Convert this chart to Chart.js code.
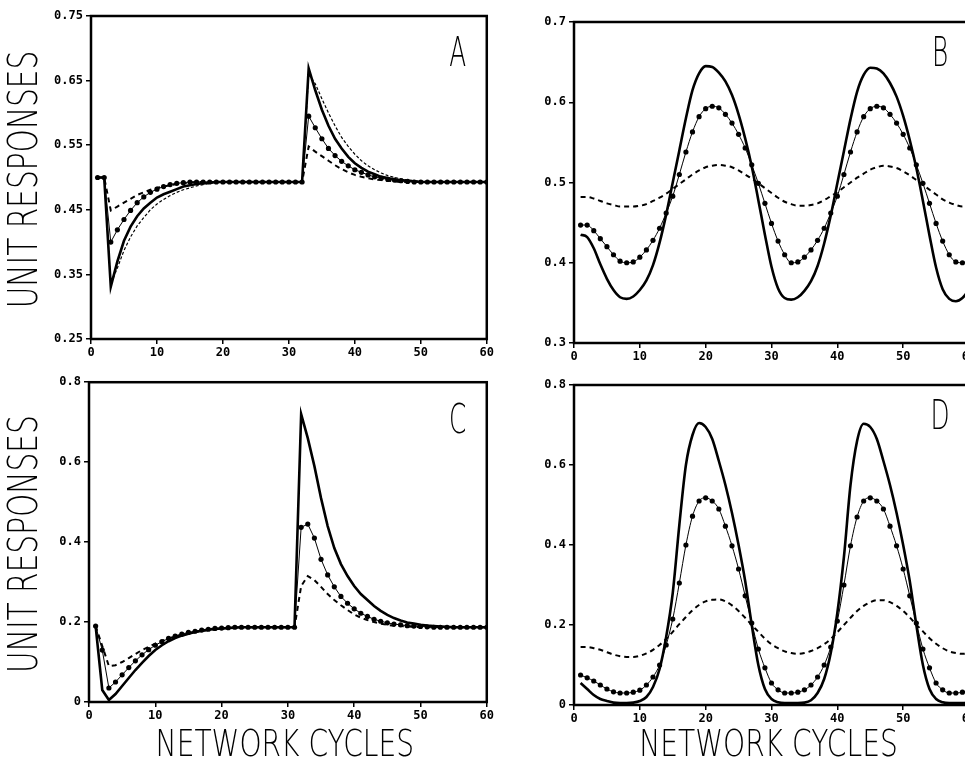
<!DOCTYPE html>
<html>
<head>
<meta charset="utf-8">
<script src="https://cdn.jsdelivr.net/npm/chart.js@4.4.1/dist/chart.umd.min.js"></script>
<style>
  html, body { margin: 0; padding: 0; background: #fff; overflow: hidden; width: 965px; height: 762px; }
  canvas { position: absolute; }
</style>
</head>
<body>
<canvas id="chartA" width="496" height="372" style="left:0;top:0"></canvas>
<canvas id="chartB" width="500" height="372" style="left:480px;top:0"></canvas>
<canvas id="chartC" width="496" height="390" style="left:0;top:372px"></canvas>
<canvas id="chartD" width="500" height="390" style="left:480px;top:372px"></canvas>
<script>
// network cycles (x)
const cycles = [1,2,3,4,5,6,7,8,9,10,11,12,13,14,15,16,17,18,19,20,
  21,22,23,24,25,26,27,28,29,30,31,32,33,34,35,36,37,38,39,40,
  41,42,43,44,45,46,47,48,49,50,51,52,53,54,55,56,57,58,59,60];

// tick labels
const xTicks = [0,10,20,30,40,50,60];
const yTicksA = [0.25,0.35,0.45,0.55,0.65,0.75];
const yTicksB = [0.3,0.4,0.5,0.6,0.7];
const yTicksCD = [0,0.2,0.4,0.6,0.8];

// Panel A
const aSolid = [0.5,0.5,0.331,0.37,0.402,0.424,0.44,0.452,0.461,0.469,0.474,0.478,0.482,0.486,0.488,0.49,0.491,0.492,0.493,0.493,
  0.493,0.493,0.493,0.493,0.493,0.493,0.493,0.493,0.493,0.493,0.493,0.493,0.669,0.635,0.605,0.58,0.56,0.545,0.532,0.522,
  0.515,0.509,0.505,0.501,0.499,0.497,0.496,0.495,0.494,0.493,0.493,0.493,0.493,0.493,0.493,0.493,0.493,0.493,0.493,0.493];
const aSlow = [0.5,0.5,0.335,0.36,0.387,0.408,0.425,0.438,0.45,0.459,0.466,0.472,0.477,0.481,0.484,0.487,0.489,0.491,0.492,0.493,
  0.493,0.493,0.493,0.493,0.493,0.493,0.493,0.493,0.493,0.493,0.493,0.493,0.66,0.645,0.622,0.6,0.58,0.562,0.548,0.536,
  0.526,0.518,0.512,0.507,0.503,0.5,0.498,0.496,0.495,0.494,0.493,0.493,0.493,0.493,0.493,0.493,0.493,0.493,0.493,0.493];
const aDots = [0.5,0.5,0.4,0.419,0.435,0.449,0.461,0.47,0.477,0.482,0.486,0.489,0.491,0.492,0.493,0.493,0.493,0.493,0.493,0.493,
  0.493,0.493,0.493,0.493,0.493,0.493,0.493,0.493,0.493,0.493,0.493,0.493,0.595,0.577,0.56,0.545,0.534,0.525,0.518,0.512,
  0.508,0.504,0.501,0.499,0.497,0.496,0.495,0.494,0.493,0.493,0.493,0.493,0.493,0.493,0.493,0.493,0.493,0.493,0.493,0.493];
const aDash = [0.5,0.5,0.449,0.455,0.461,0.467,0.473,0.477,0.481,0.484,0.486,0.488,0.49,0.491,0.492,0.493,0.493,0.493,0.493,0.493,
  0.493,0.493,0.493,0.493,0.493,0.493,0.493,0.493,0.493,0.493,0.493,0.493,0.548,0.54,0.533,0.526,0.519,0.513,0.508,0.504,
  0.501,0.499,0.497,0.496,0.495,0.494,0.493,0.493,0.493,0.493,0.493,0.493,0.493,0.493,0.493,0.493,0.493,0.493,0.493,0.493];

// Panel B
const bSolid = [0.435,0.432,0.418,0.398,0.38,0.366,0.357,0.355,0.358,0.366,0.378,0.397,0.425,0.46,0.5,0.54,0.58,0.615,0.636,0.645,
  0.644,0.637,0.626,0.609,0.585,0.555,0.52,0.478,0.435,0.395,0.368,0.356,0.354,0.357,0.365,0.377,0.396,0.424,0.459,0.499,
  0.539,0.579,0.613,0.634,0.643,0.642,0.636,0.624,0.607,0.583,0.553,0.518,0.477,0.434,0.394,0.367,0.355,0.352,0.356,0.366];
const bDots = [0.447,0.447,0.44,0.43,0.42,0.41,0.402,0.4,0.401,0.407,0.416,0.428,0.443,0.462,0.483,0.51,0.538,0.563,0.582,0.592,
  0.595,0.593,0.585,0.574,0.56,0.543,0.522,0.499,0.474,0.449,0.427,0.41,0.4,0.401,0.407,0.416,0.428,0.443,0.462,0.483,
  0.51,0.538,0.563,0.582,0.592,0.595,0.593,0.585,0.574,0.56,0.543,0.522,0.499,0.474,0.449,0.427,0.41,0.401,0.4,0.403];
const bDash = [0.482,0.482,0.48,0.477,0.474,0.472,0.47,0.47,0.47,0.471,0.473,0.477,0.481,0.486,0.492,0.498,0.504,0.51,0.515,0.519,
  0.521,0.522,0.521,0.519,0.515,0.51,0.505,0.499,0.493,0.487,0.481,0.476,0.473,0.471,0.471,0.472,0.474,0.478,0.483,0.488,
  0.494,0.5,0.506,0.511,0.516,0.519,0.521,0.52,0.518,0.514,0.509,0.503,0.497,0.491,0.485,0.479,0.475,0.472,0.47,0.47];

// Panel C
const cSolid = [0.19,0.03,0.005,0.02,0.04,0.06,0.08,0.098,0.115,0.13,0.142,0.152,0.16,0.166,0.171,0.175,0.178,0.181,0.183,0.184,
  0.185,0.186,0.187,0.187,0.187,0.187,0.187,0.187,0.187,0.187,0.187,0.72,0.66,0.59,0.51,0.44,0.385,0.345,0.315,0.29,
  0.27,0.255,0.24,0.228,0.218,0.21,0.204,0.199,0.196,0.193,0.191,0.19,0.189,0.188,0.187,0.187,0.187,0.187,0.187,0.187];
const cDots = [0.19,0.13,0.035,0.05,0.068,0.086,0.103,0.118,0.131,0.142,0.151,0.159,0.165,0.17,0.174,0.177,0.18,0.182,0.184,0.185,
  0.186,0.187,0.187,0.187,0.187,0.187,0.187,0.187,0.187,0.187,0.187,0.437,0.445,0.41,0.357,0.318,0.288,0.264,0.247,0.233,
  0.222,0.214,0.207,0.202,0.198,0.195,0.193,0.191,0.19,0.189,0.188,0.187,0.187,0.187,0.187,0.187,0.187,0.187,0.187,0.187];
const cDash = [0.19,0.14,0.09,0.092,0.1,0.11,0.12,0.13,0.138,0.146,0.153,0.159,0.164,0.168,0.172,0.175,0.178,0.18,0.182,0.184,
  0.185,0.186,0.187,0.187,0.187,0.187,0.187,0.187,0.187,0.187,0.187,0.29,0.315,0.305,0.288,0.27,0.255,0.242,0.23,0.219,
  0.211,0.205,0.2,0.196,0.193,0.191,0.19,0.189,0.188,0.187,0.187,0.187,0.187,0.187,0.187,0.187,0.187,0.187,0.187,0.187];

// Panel D
const dSolid = [0.055,0.04,0.025,0.015,0.01,0.006,0.005,0.005,0.006,0.01,0.02,0.045,0.09,0.17,0.28,0.45,0.6,0.675,0.705,0.695,
  0.665,0.61,0.55,0.48,0.4,0.31,0.2,0.1,0.04,0.015,0.007,0.005,0.005,0.005,0.006,0.012,0.03,0.065,0.13,0.23,
  0.37,0.55,0.66,0.703,0.695,0.665,0.61,0.55,0.48,0.4,0.31,0.2,0.1,0.04,0.015,0.007,0.005,0.005,0.005,0.006];
const dDots = [0.075,0.068,0.06,0.05,0.04,0.033,0.03,0.03,0.032,0.037,0.05,0.07,0.1,0.15,0.215,0.305,0.4,0.472,0.51,0.518,
  0.51,0.49,0.447,0.398,0.34,0.273,0.205,0.14,0.093,0.055,0.038,0.03,0.03,0.032,0.038,0.05,0.07,0.1,0.145,0.21,
  0.3,0.398,0.47,0.51,0.518,0.51,0.49,0.447,0.398,0.34,0.273,0.205,0.14,0.093,0.055,0.038,0.03,0.03,0.032,0.038];
const dDash = [0.145,0.145,0.142,0.138,0.132,0.126,0.122,0.12,0.12,0.123,0.129,0.138,0.15,0.165,0.183,0.202,0.22,0.237,0.25,0.259,
  0.263,0.264,0.259,0.249,0.235,0.218,0.2,0.183,0.166,0.152,0.142,0.134,0.13,0.128,0.13,0.135,0.142,0.152,0.165,0.182,
  0.2,0.218,0.235,0.248,0.257,0.262,0.262,0.257,0.248,0.235,0.219,0.201,0.184,0.167,0.153,0.142,0.134,0.13,0.128,0.13];

const tickFont = { family: '"DejaVu Sans Mono", monospace', size: 12, weight: 'bold' };
const thinFont = '"DejaVu Sans", sans-serif';

// narrow, thin text like the plotter lettering
function plotterText(ctx, text, x, y, size, sx, rotate) {
  ctx.save();
  ctx.translate(x, y);
  if (rotate) ctx.rotate(-Math.PI / 2);
  ctx.scale(sx, 1);
  ctx.font = '200 ' + size + 'px ' + thinFont;
  ctx.fillStyle = '#000';
  ctx.textAlign = 'center';
  ctx.textBaseline = 'middle';
  ctx.fillText(text, 0, 0);
  ctx.restore();
}

// frame around the plot area, panel letter and axis titles
const panelFrame = {
  id: 'panelFrame',
  afterDraw(chart, args, opts) {
    const { ctx, chartArea: a } = chart;
    ctx.save();
    ctx.strokeStyle = '#000';
    ctx.lineWidth = 2.5;
    ctx.strokeRect(a.left, a.top, a.right - a.left, a.bottom - a.top);
    ctx.restore();
    plotterText(ctx, opts.text, a.right - 29, a.top + opts.dy, 40, 0.62, false);
    if (opts.yTitle) plotterText(ctx, 'UNIT RESPONSES', 27, (a.top + a.bottom) / 2 + 2, 40, 0.74, true);
    if (opts.xTitle) plotterText(ctx, 'NETWORK CYCLES', (a.left + a.right) / 2 - 3, a.bottom + opts.xTitle, 38, 0.74, false);
  }
};

function pts(values) {
  return cycles.map((c, i) => ({ x: c, y: values[i] }));
}

function lineSet(values, kind, smooth) {
  const base = {
    data: pts(values),
    borderColor: '#000',
    backgroundColor: '#000',
    pointRadius: 0,
    tension: 0,
    cubicInterpolationMode: smooth ? 'monotone' : 'default'
  };
  if (kind === 'solid') return { ...base, borderWidth: 2.6 };
  if (kind === 'slow') return { ...base, borderWidth: 1.2, borderDash: [3, 2] };
  if (kind === 'dots') return { ...base, borderWidth: 1, pointRadius: 2.6, pointBorderWidth: 0 };
  return { ...base, borderWidth: 2, borderDash: [5, 4] };
}

function makeChart(id, o) {
  const ctx = document.getElementById(id).getContext('2d');
  return new Chart(ctx, {
    type: 'line',
    data: { datasets: o.sets },
    options: {
      responsive: false,
      animation: false,
      layout: { padding: o.padding },
      plugins: { legend: { display: false }, tooltip: { enabled: false }, panelFrame: o.label },
      scales: {
        x: {
          type: 'linear', min: 0, max: 60,
          afterBuildTicks: s => { s.ticks = xTicks.map(v => ({ value: v })); },
          afterFit: s => { s.height = o.xHeight; },
          ticks: { color: '#000', font: tickFont, padding: 2, maxRotation: 0 },
          grid: { drawOnChartArea: false, tickLength: 5, color: '#000', lineWidth: 1.5 },
          border: { display: false }
        },
        y: {
          type: 'linear', min: o.yTicks[0], max: o.yTicks[o.yTicks.length - 1],
          afterBuildTicks: s => { s.ticks = o.yTicks.map(v => ({ value: v })); },
          afterFit: s => { s.width = o.yWidth; },
          ticks: { color: '#000', font: tickFont, padding: 3, callback: o.fmt },
          grid: { drawOnChartArea: false, tickLength: 5, color: '#000', lineWidth: 1.5 },
          border: { display: false }
        }
      }
    },
    plugins: [panelFrame]
  });
}

const fmt2 = v => v.toFixed(2);
const fmt1 = v => v === 0 ? '0' : v.toFixed(1);

makeChart('chartA', {
  sets: [lineSet(aSolid, 'solid'), lineSet(aSlow, 'slow'), lineSet(aDots, 'dots'), lineSet(aDash, 'dash')],
  yTicks: yTicksA, fmt: fmt2, yWidth: 91, xHeight: 33,
  padding: { top: 16, right: 8, left: 0, bottom: 0 },
  label: { text: 'A', dy: 40, yTitle: true }
});
makeChart('chartB', {
  sets: [lineSet(bSolid, 'solid', true), lineSet(bDots, 'dots', true), lineSet(bDash, 'dash', true)],
  yTicks: yTicksB, fmt: fmt1, yWidth: 94, xHeight: 29,
  padding: { top: 22, right: 11, left: 0, bottom: 0 },
  label: { text: 'B', dy: 34 }
});
makeChart('chartC', {
  sets: [lineSet(cSolid, 'solid'), lineSet(cDots, 'dots'), lineSet(cDash, 'dash')],
  yTicks: yTicksCD, fmt: fmt1, yWidth: 89, xHeight: 60,
  padding: { top: 10, right: 9, left: 0, bottom: 0 },
  label: { text: 'C', dy: 40, yTitle: true, xTitle: 44 }
});
makeChart('chartD', {
  sets: [lineSet(dSolid, 'solid', true), lineSet(dDots, 'dots', true), lineSet(dDash, 'dash', true)],
  yTicks: yTicksCD, fmt: fmt1, yWidth: 94, xHeight: 57,
  padding: { top: 13, right: 11, left: 0, bottom: 0 },
  label: { text: 'D', dy: 34, xTitle: 41 }
});
</script>
</body>
</html>
